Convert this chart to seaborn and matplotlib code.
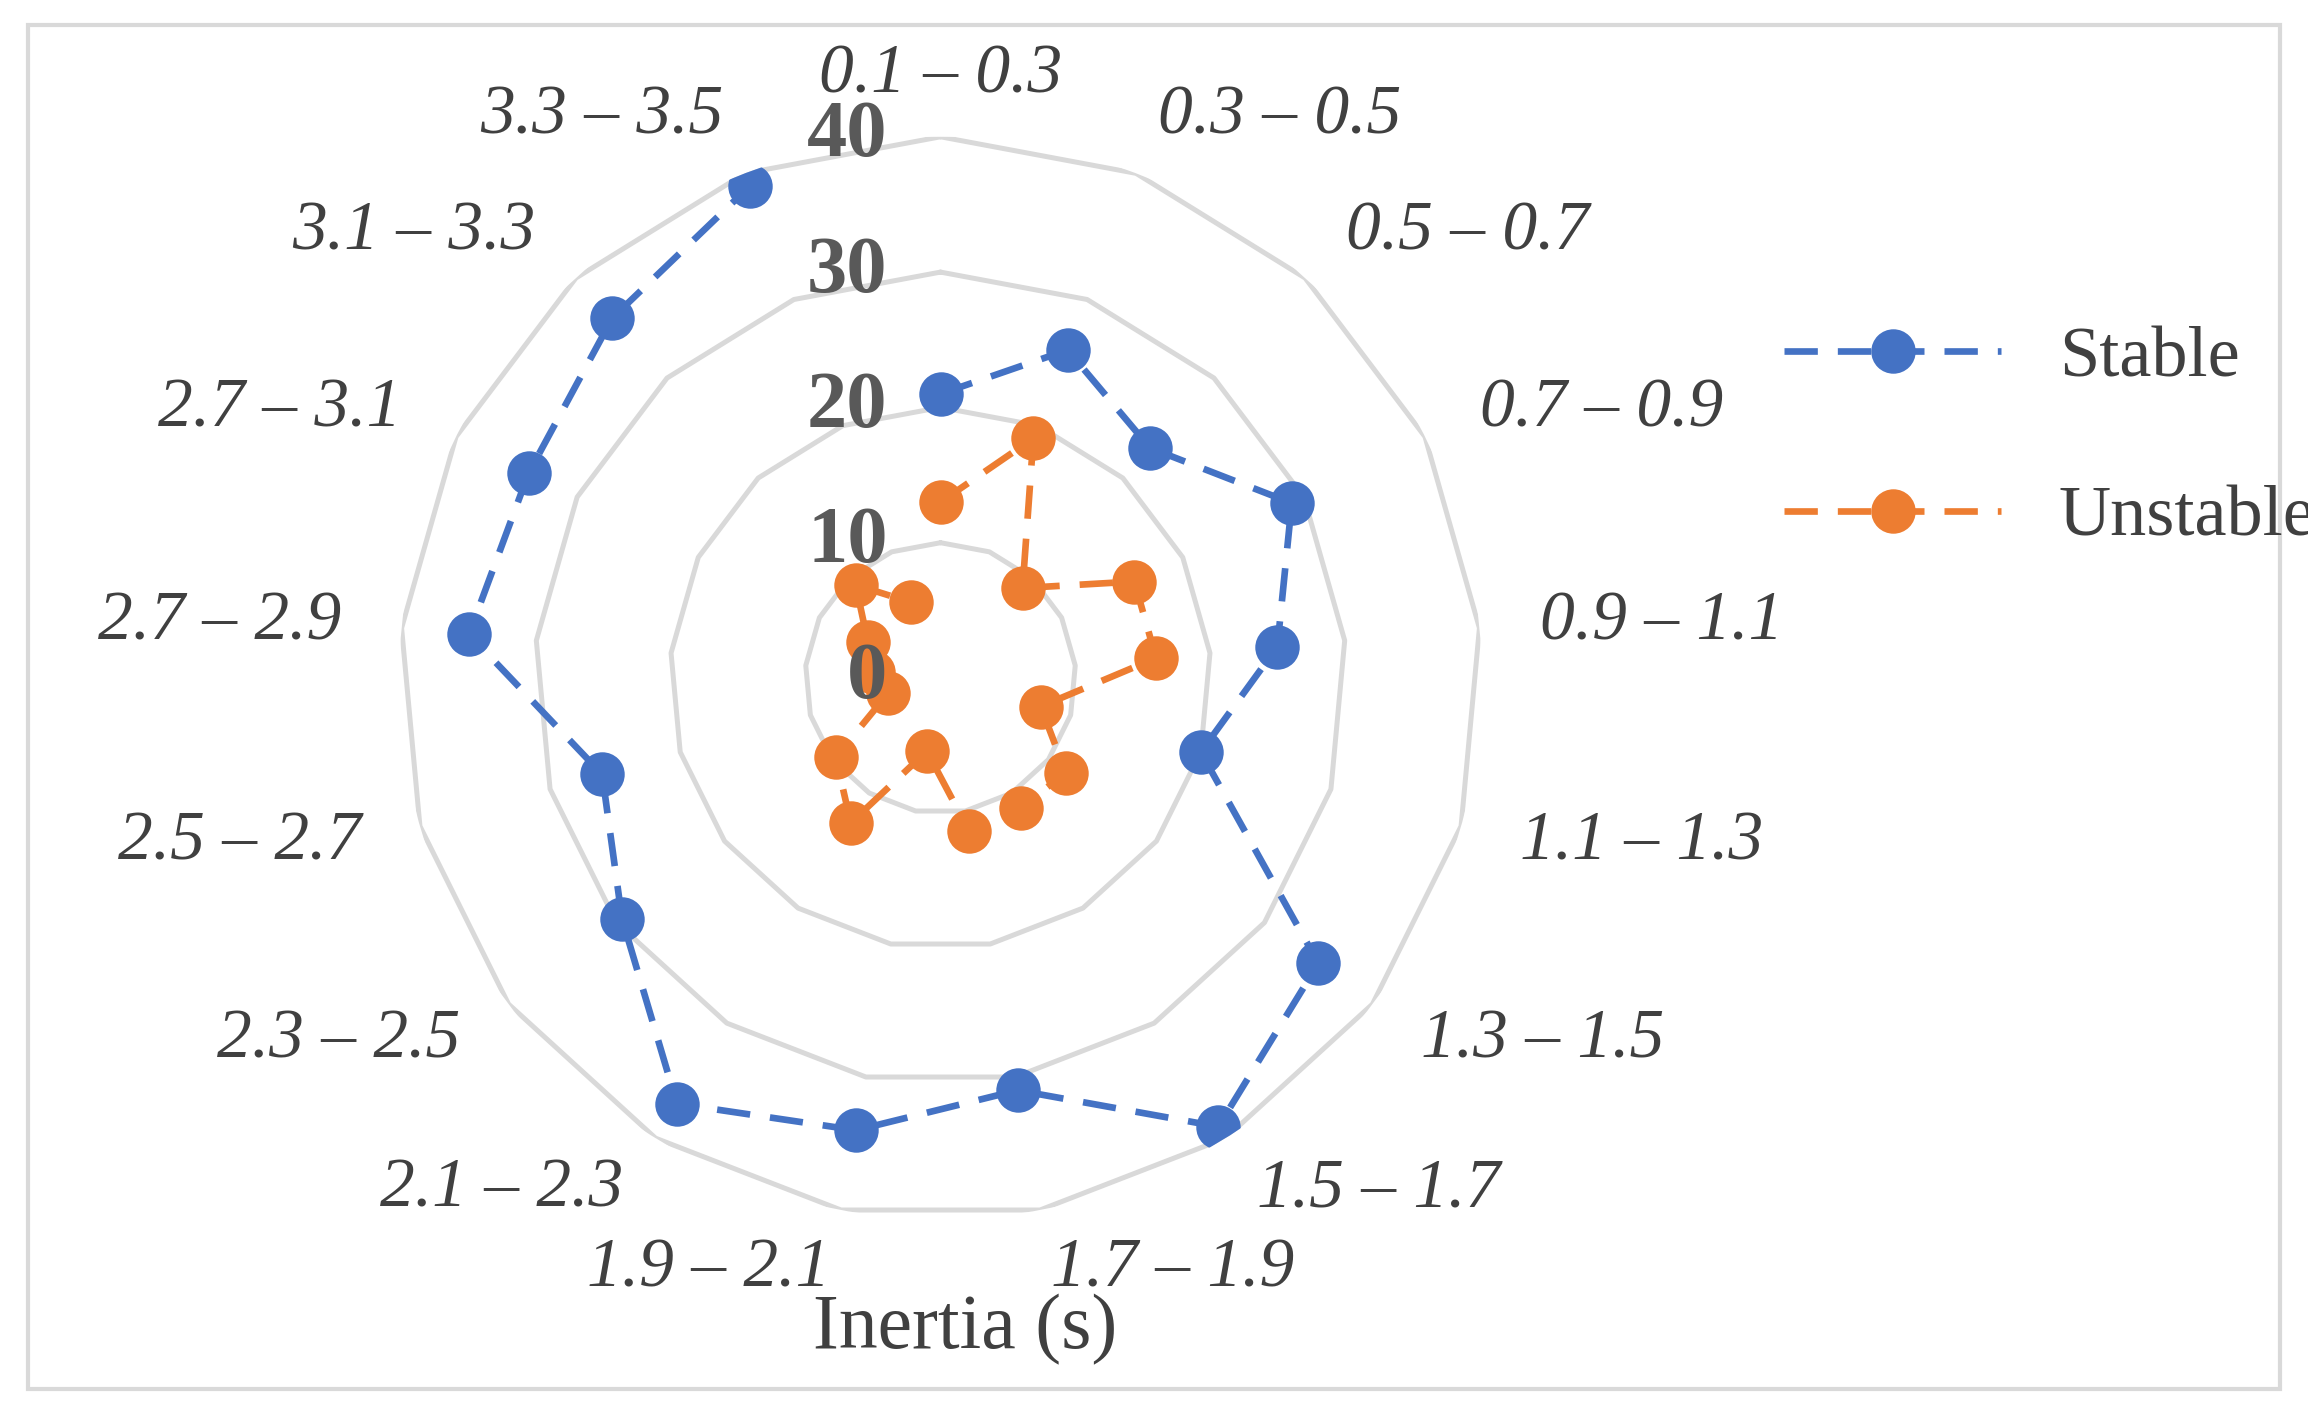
import numpy as np
import pandas as pd
import seaborn as sns
import matplotlib.pyplot as plt
from matplotlib.patches import Rectangle

categories = ['0.1 – 0.3', '0.3 – 0.5', '0.5 – 0.7', '0.7 – 0.9', '0.9 – 1.1', '1.1 – 1.3',
              '1.3 – 1.5', '1.5 – 1.7', '1.7 – 1.9', '1.9 – 2.1', '2.1 – 2.3', '2.3 – 2.5',
              '2.5 – 2.7', '2.7 – 2.9', '2.7 – 3.1', '3.1 – 3.3', '3.3 – 3.5']
stable = [21, 26, 23, 29, 25, 20, 35, 39, 31, 34, 37, 29.5, 26, 35, 34, 36, 39]
unstable = [13, 19, 9, 16, 16, 7.7, 11.6, 11.3, 11.5, 5.5, 12.6, 9.7, 4, 5, 6, 9.3, 6]
rings = [10, 20, 30, 40]

sns.set_theme(style='white')
plt.rcParams['font.family'] = ['Liberation Serif', 'DejaVu Serif']

n = len(categories)
theta = np.arange(n) * 2 * np.pi / n

fig = plt.figure(figsize=(11.54, 7.07), dpi=200)
fig.patches.append(Rectangle((0.012, 0.018), 0.976, 0.964, transform=fig.transFigure,
                             fill=False, edgecolor='#D9D9D9', linewidth=1.5))
ax = fig.add_axes([0.173, 0.137, 0.469, 0.767], projection='polar')
ax.set_theta_zero_location('N')
ax.set_theta_direction(-1)
ax.set_ylim(0, 40)
ax.grid(False)
ax.spines['polar'].set_visible(False)
ax.set_xticks([])
ax.set_yticks([])

tc = np.append(theta, theta[0])
for r in rings:
    ax.plot(tc, [r] * (n + 1), color='#D9D9D9', lw=1.8, zorder=0)

for vals, col, name in [(stable, '#4472C4', 'Stable'), (unstable, '#ED7D31', 'Unstable')]:
    df = pd.DataFrame({'t': tc, 'v': vals + vals[:1]})
    sns.lineplot(data=df, x='t', y='v', sort=False, ax=ax, color=col, lw=2.4,
                 linestyle=(0, (5, 3)), marker='o', markersize=16, markeredgewidth=0,
                 label=name, legend=False)
ax.set_xlabel('')
ax.set_ylabel('')

for t, lab in zip(theta, categories):
    s = np.sin(t)
    ha = 'center' if abs(s) < 0.15 else ('left' if s > 0 else 'right')
    ax.text(t, 44.5, lab, ha=ha, va='center', fontsize=25, style='italic', color='#404040')

for r in [0] + rings:
    ax.annotate(str(r), xy=(0, r), xytext=(-19, 0), textcoords='offset points',
                ha='right', va='center', fontsize=29, fontweight='bold', color='#595959')

fig.text(0.418, 0.06, 'Inertia (s)', ha='center', va='center', fontsize=28, color='#404040')

h, l = ax.get_legend_handles_labels()
fig.legend(h, l, loc='center left', bbox_to_anchor=(0.745, 0.69), frameon=False,
           fontsize=26, labelspacing=1.3, handlelength=3, labelcolor='#404040')

fig.savefig('out.png', dpi=200)
